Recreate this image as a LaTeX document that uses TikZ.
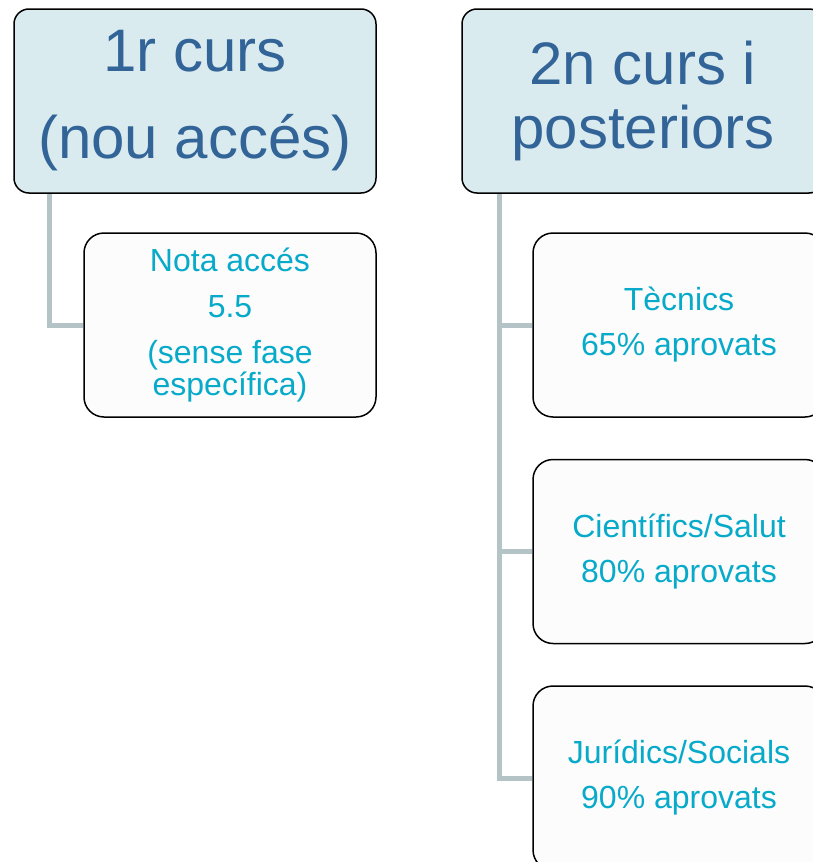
\documentclass[tikz,border=0pt]{standalone}
\usepackage{fontspec}
\setmainfont{Liberation Sans}
\usetikzlibrary{positioning,backgrounds}

\definecolor{hdrfill}{RGB}{218,235,239}
\definecolor{hdrtext}{RGB}{50,100,152}
\definecolor{leaftext}{RGB}{8,170,202}
\definecolor{stem}{RGB}{180,196,198}

\tikzset{
  hdr/.style = {draw = black, line width = 1.5pt, fill = hdrfill, shape = rectangle, rounded corners = 15pt,
    minimum width = 362pt, minimum height = 184pt, inner sep = 0pt, align = center,
    text = hdrtext, font = \fontsize{60}{64}\selectfont},
  leaf/.style = {draw = black, line width = 1.5pt, fill = black!1, shape = rectangle, rounded corners = 20pt,
    minimum width = 292pt, minimum height = 184pt, inner sep = 0pt, align = center,
    text = leaftext, font = \fontsize{32}{28}\selectfont},
  stemline/.style = {draw = stem, line width = 5pt}
}

\begin{document}
\begin{tikzpicture}[x = 1pt, y = 1pt]
\useasboundingbox (0,0) rectangle (813,-862);
\clip (0,0) rectangle (813,-862);

\node[hdr] (first) at (195,-101) {1r curs\\[23pt](nou accés)};
\node[hdr] (later) at (643,-101) {2n curs i\\posteriors};

\node[leaf] (nota) at (230,-325) {Nota accés\\[18pt]5.5\\[18pt](sense fase\\específica)};
\node[leaf] (tecn) at (679,-325) {Tècnics\\[17pt]65\% aprovats};
\node[leaf, below = 41pt of tecn] (cien) {Científics/Salut\\[17pt]80\% aprovats};
\node[leaf, below = 41pt of cien] (jurid) {Jurídics/Socials\\[17pt]90\% aprovats};

\begin{scope}[on background layer]
\draw[stemline] ([xshift = 36pt]first.south west) |- (nota.west);
\draw[stemline] ([xshift = 38pt]later.south west) |- (jurid.west);
\draw[stemline] ([xshift = 38pt]later.south west) |- (tecn.west);
\draw[stemline] ([xshift = 38pt]later.south west) |- (cien.west);
\end{scope}
\end{tikzpicture}
\end{document}
